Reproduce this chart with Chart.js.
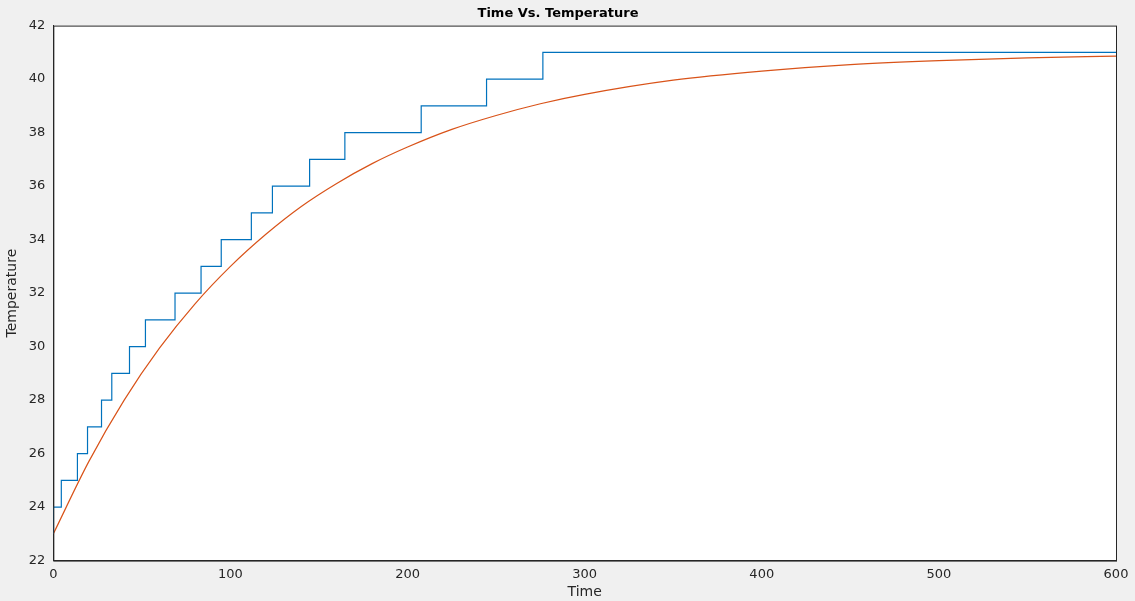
<!DOCTYPE html>
<html><head><meta charset="utf-8">
<script src="https://cdn.jsdelivr.net/npm/chart.js@4/dist/chart.umd.min.js"></script>
<style>html,body{margin:0;background:#f0f0f0}#wrap{width:1135px;height:601px}</style>
</head><body><div id="wrap"><canvas id="c"></canvas></div>
<script>
// step series (measured): time at which each new reading begins
const stepTimes = [0, 4.5, 13.6, 19.3, 27.2, 33, 43, 52, 68.7, 83.4, 94.8, 111.8, 123.7, 144.7, 164.6, 207.7, 244.6, 276.4, 416.6, 600];
const stepTemps = [23, 24, 25, 26, 27, 28, 29, 30, 31, 32, 33, 34, 35, 36, 37, 38, 39, 40, 41, 41];
// fitted curve
const fitTimes = [0, 20, 40, 60, 80, 100, 120, 140, 160, 180, 200, 225, 250, 275, 300, 350, 400, 450, 500, 550, 600];
const fitTemps = [23.0, 25.7, 28.0, 29.95, 31.6, 33.0, 34.2, 35.24, 36.1, 36.84, 37.46, 38.12, 38.64, 39.08, 39.43, 39.96, 40.30, 40.54, 40.69, 40.79, 40.86];

const font = {family: 'DejaVu Sans', size: 13};
Chart.defaults.color = '#262626';

const boxPlugin = {
    id: 'box',
    beforeDraw(chart) {
        const {ctx, chartArea: a} = chart;
        ctx.save();
        ctx.fillStyle = '#fff';
        ctx.fillRect(a.left, a.top, a.right - a.left, a.bottom - a.top);
        ctx.restore();
    },
    afterDraw(chart) {
        const {ctx, chartArea: a} = chart;
        ctx.save();
        ctx.strokeStyle = '#262626';
        ctx.lineWidth = 1;
        ctx.strokeRect(a.left + 0.5, a.top + 0.5, a.right - a.left, a.bottom - a.top);
        ctx.restore();
    }
};

new Chart(document.getElementById('c'), {
    type: 'line',
    data: {
        datasets: [
            {
                data: stepTimes.map((t, i) => ({x: t, y: stepTemps[i]})),
                stepped: 'after',
                borderColor: '#0072BD',
                borderWidth: 1.2,
                pointRadius: 0,
            },
            {
                data: fitTimes.map((t, i) => ({x: t, y: fitTemps[i]})),
                cubicInterpolationMode: 'monotone',
                borderColor: '#D95319',
                borderWidth: 1.2,
                pointRadius: 0,
            },
        ],
    },
    options: {
        responsive: true,
        maintainAspectRatio: false,
        animation: false,
        layout: {padding: {top: 0, right: 19, left: 0, bottom: 0}},
        plugins: {
            legend: {display: false},
            tooltip: {enabled: false},
            title: {
                display: true,
                text: 'Time Vs. Temperature',
                font: {family: 'DejaVu Sans', size: 13, weight: 'bold'},
                color: '#000',
                padding: {top: 6, bottom: 4},
            },
        },
        scales: {
            x: {
                type: 'linear',
                min: 0, max: 600,
                ticks: {stepSize: 100, font, padding: 2},
                grid: {display: false, drawTicks: true, tickLength: 4},
                border: {color: '#262626'},
                title: {display: true, text: 'Time', font: {family: 'DejaVu Sans', size: 14}, padding: 0},
            },
            y: {
                min: 22, max: 42,
                ticks: {stepSize: 2, font, padding: 4},
                grid: {display: false, tickLength: 4},
                border: {color: '#262626'},
                title: {display: true, text: 'Temperature', font: {family: 'DejaVu Sans', size: 14}, padding: {bottom: 4}},
            },
        },
    },
    plugins: [boxPlugin],
});
</script>
</body></html>
